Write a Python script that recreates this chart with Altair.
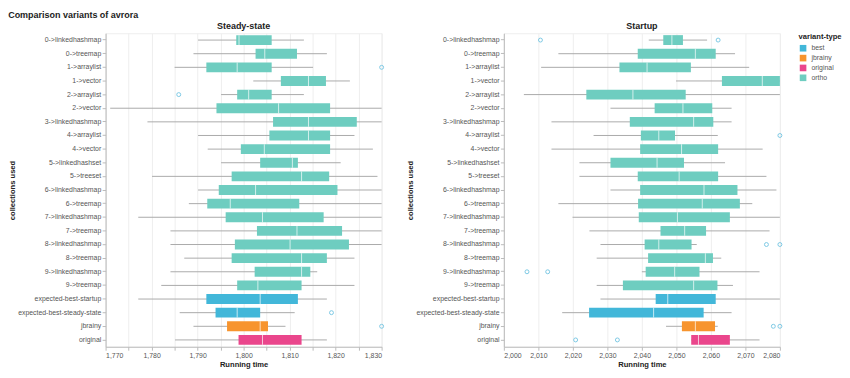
import altair as alt
import pandas as pd

categories = [
    "0->linkedhashmap", "0->treemap", "1->arraylist", "1->vector", "2->arraylist",
    "2->vector", "3->linkedhashmap", "4->arraylist", "4->vector", "5->linkedhashset",
    "5->treeset", "6->linkedhashmap", "6->treemap", "7->linkedhashmap", "7->treemap",
    "8->linkedhashmap", "8->treemap", "9->linkedhashmap", "9->treemap",
    "expected-best-startup", "expected-best-steady-state", "jbrainy", "original",
]
variant_types = ["ortho"] * 19 + ["best", "best", "jbrainy", "original"]

type_domain = ["best", "jbrainy", "original", "ortho"]
type_colors = ["#42b7d9", "#f7942e", "#ea468c", "#6ecdc0"]

# Steady-state summary statistics
steady_min = [1790.1, 1789.1, 1785.0, 1802.1, 1795.1, 1771.0, 1779.1, 1790.1, 1792.2, 1795.1, 1780.1, 1790.1,
              1788.1, 1777.1, 1784.1, 1784.1, 1787.1, 1784.1, 1782.1, 1777.1, 1786.1, 1789.1, 1785.1]
steady_q1 = [1798.4, 1802.6, 1791.9, 1808.1, 1798.6, 1794.1, 1806.4, 1805.6, 1799.4, 1803.6, 1797.4, 1794.6,
             1792.1, 1796.1, 1802.9, 1798.1, 1797.4, 1802.4, 1798.6, 1791.9, 1793.9, 1796.4, 1798.9]
steady_med = [1799.0, 1804.6, 1798.6, 1814.1, 1801.1, 1807.6, 1814.1, 1814.1, 1804.5, 1810.6, 1812.6, 1802.6,
              1797.1, 1804.1, 1811.6, 1810.1, 1812.6, 1812.6, 1803.1, 1803.6, 1798.6, 1803.6, 1804.1]
steady_q3 = [1806.1, 1811.6, 1806.1, 1817.9, 1806.1, 1818.8, 1824.6, 1818.8, 1818.8, 1811.8, 1818.6, 1820.4,
             1812.1, 1817.4, 1821.4, 1822.9, 1818.1, 1814.5, 1812.6, 1811.8, 1803.6, 1805.3, 1812.6]
steady_max = [1813.1, 1818.1, 1815.1, 1823.1, 1813.1, 1830.0, 1830.0, 1824.1, 1828.1, 1821.1, 1829.1, 1830.0,
              1830.0, 1830.0, 1830.0, 1830.0, 1824.1, 1816.0, 1824.1, 1818.1, 1811.1, 1809.1, 1818.1]
steady_out_cat = ["1->arraylist", "2->arraylist", "expected-best-steady-state", "jbrainy"]
steady_out_val = [1830.0, 1785.9, 1819.1, 1830.0]

# Startup summary statistics
startup_min = [2042.0, 2015.8, 2010.8, 2049.9, 2005.8, 2030.9, 2013.8, 2026.0, 2013.8, 2021.9, 2021.9, 2030.9,
               2015.8, 2019.9, 2024.8, 2028.0, 2026.9, 2040.0, 2026.9, 2028.0, 2016.9, 2047.0, 2054.3]
startup_q1 = [2046.2, 2038.8, 2033.5, 2063.2, 2023.9, 2043.7, 2036.5, 2039.7, 2039.5, 2030.9, 2038.8, 2039.5,
              2038.9, 2039.1, 2045.4, 2040.8, 2041.8, 2041.1, 2034.5, 2044.0, 2024.7, 2051.6, 2054.3]
startup_med = [2048.7, 2055.5, 2041.5, 2074.9, 2037.4, 2051.9, 2055.0, 2044.9, 2051.5, 2044.4, 2050.8, 2058.0,
               2057.5, 2050.3, 2052.4, 2044.9, 2058.4, 2049.5, 2055.0, 2047.5, 2043.4, 2055.5, 2056.4]
startup_q3 = [2051.9, 2061.4, 2054.2, 2080.0, 2052.7, 2060.4, 2060.7, 2049.6, 2062.1, 2052.2, 2062.1, 2067.7,
              2068.4, 2065.5, 2058.6, 2054.4, 2060.6, 2056.7, 2061.9, 2061.4, 2057.9, 2061.2, 2065.5]
startup_max = [2058.9, 2067.0, 2071.1, 2080.0, 2080.0, 2066.0, 2066.0, 2062.0, 2075.0, 2064.1, 2076.1, 2079.0,
               2072.0, 2080.0, 2077.0, 2055.9, 2063.0, 2074.1, 2066.4, 2080.0, 2066.0, 2062.0, 2074.1]
startup_out_cat = ["0->linkedhashmap", "0->linkedhashmap", "4->arraylist", "8->linkedhashmap", "8->linkedhashmap",
                   "9->linkedhashmap", "9->linkedhashmap", "jbrainy", "jbrainy", "original", "original"]
startup_out_val = [2010.6, 2062.1, 2080.0, 2076.1, 2080.0, 2006.7, 2012.7, 2078.1, 2080.0, 2020.8, 2032.9]

steady_ticks = list(range(1770, 1831, 5))
startup_ticks = list(range(2000, 2081, 10))


def panel(title, mins, q1s, meds, q3s, maxs, out_cat, out_val, domain, ticks):
    df = pd.DataFrame({
        "collections used": categories, "variant-type": variant_types,
        "lo": mins, "q1": q1s, "med": meds, "q3": q3s, "hi": maxs,
    })
    out = pd.DataFrame({"collections used": out_cat, "value": out_val})
    xscale = alt.Scale(domain=domain, nice=False, zero=False)
    xaxis = alt.Axis(title="Running time", values=ticks,
                     labelExpr="datum.value % 10 == 0 ? datum.label : ''", labelFlush=True)
    y = alt.Y("collections used:N", sort=categories,
              axis=alt.Axis(title="collections used", titlePadding=1.0))
    base = alt.Chart(df)
    whisk = base.mark_rule(color="#aaaaaa", strokeWidth=1).encode(
        x=alt.X("lo:Q", scale=xscale, axis=xaxis), x2="hi:Q", y=y)
    box = base.mark_bar(size=10).encode(
        x=alt.X("q1:Q", scale=xscale, axis=xaxis), x2="q3:Q", y=y,
        color=alt.Color("variant-type:N", scale=alt.Scale(domain=type_domain, range=type_colors),
                        legend=alt.Legend(title="variant-type", symbolType="square")))
    med = base.mark_tick(color="white", thickness=1, size=10).encode(
        x=alt.X("med:Q", scale=xscale, axis=xaxis), y=y)
    pts = alt.Chart(out).mark_point(filled=False, size=16, strokeWidth=1, color="#7cc8e4", opacity=1).encode(
        x=alt.X("value:Q", scale=xscale, axis=xaxis), y=y)
    return alt.layer(whisk, box, med, pts).properties(width=280, height=318, title=title)


left = panel("Steady-state", steady_min, steady_q1, steady_med, steady_q3, steady_max,
             steady_out_cat, steady_out_val, [1770, 1830], steady_ticks)
right = panel("Startup", startup_min, startup_q1, startup_med, startup_q3, startup_max,
              startup_out_cat, startup_out_val, [2000, 2080], startup_ticks)

chart = alt.hconcat(left, right, spacing=20).properties(
    title=alt.TitleParams("Comparison variants of avrora", anchor="start", fontSize=9.1, offset=2),
    padding={"left": 0, "top": 0, "right": 0, "bottom": 0},
).configure(font="Liberation Sans").configure_axis(
    labelFontSize=7, titleFontSize=7.7, labelColor="#555", titleColor="#222",
    tickSize=3.5, labelPadding=1.4, titlePadding=2.4, domainColor="#bbb", tickColor="#bbb", gridColor="#eee",
).configure_title(fontSize=9.1, offset=2, color="#222").configure_legend(
    titleFontSize=7.7, labelFontSize=7, labelColor="#555", titleColor="#222", symbolSize=45,
    rowPadding=2, offset=14, titlePadding=3,
).configure_view(stroke="#eee")

chart.save("out.html", embed_options={"renderer": "svg", "actions": False})
